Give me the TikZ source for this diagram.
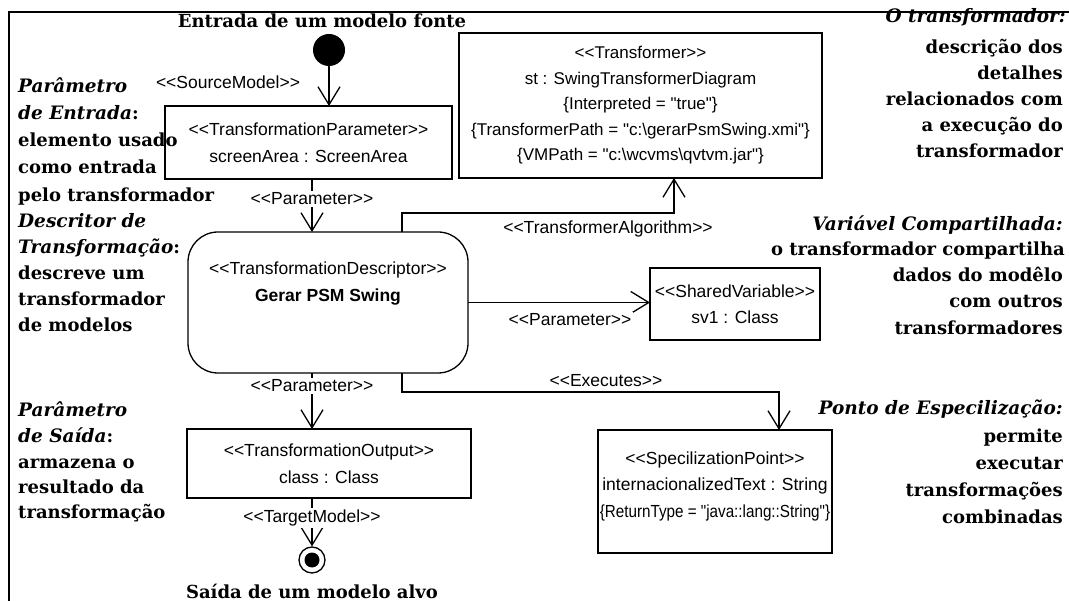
\documentclass[tikz,border=0pt]{standalone}
\usepackage{fontspec}
\newfontfamily\umlfont{Liberation Sans}
\newfontfamily\notefont{DejaVu Serif}
\usetikzlibrary{arrows.meta}
\newcommand\stereo[1]{<\kern0pt<#1>\kern0pt>}
\newcommand\headline[1]{{\fontsize{18.5}{26}\selectfont\itshape #1}}
\begin{document}
\begin{tikzpicture}[x=1pt,y=-1pt,
  frame/.style={line width=2.4pt},
  note/.style={inner sep=0pt, font=\notefont\fontsize{18}{26}\selectfont\bfseries},
  uml/.style={font=\umlfont\fontsize{17.5}{26.5}\selectfont, align=center, inner sep=0pt},
  umlbox/.style={uml, draw, line width=1.3pt, outer sep=0pt},
  conn/.style={line width=1.3pt, -{Straight Barb[length=18pt,width=22pt,line width=1.3pt]}},
  tag/.style={font=\umlfont\fontsize{17.5}{20}\selectfont, fill=white, inner sep=1.5pt}
]
\useasboundingbox (0,0) rectangle (1069,601);
\draw[frame] (9,601) -- (9,12) -- (1069,12);

% activity nodes
\node[note] (srcTitle) at (322,21) {Entrada de um modelo fonte};
\node[circle, fill, minimum size=32pt, inner sep=0pt] (start) at (329,50) {};
\node[umlbox, minimum width=287pt, minimum height=73pt] (tp) at (308.5,142.5)
  {\stereo{TransformationParameter}\\screenArea : ScreenArea};
\node[umlbox, rounded corners=30pt, minimum width=280pt, minimum height=141pt] (td) at (328,302.5) {};
\node[uml] (tdtext) at (328,283.5) {\stereo{TransformationDescriptor}\\\textbf{Gerar PSM Swing}};
\node[umlbox, font=\umlfont\fontsize{17}{25.5}\selectfont, minimum width=363pt, minimum height=145pt] (st) at (640.5,105.5)
  {\stereo{Transformer}\\st : SwingTransformerDiagram\\\{Interpreted = "true"\}\\
   \{TransformerPath = "c:\textbackslash gerarPsmSwing.xmi"\}\\
   \{VMPath = "c:\textbackslash wcvms\textbackslash qvtvm.jar"\}};
\node[umlbox, minimum width=170pt, minimum height=72pt] (sv) at (735,304)
  {\stereo{SharedVariable}\\sv1 : Class};
\node[umlbox, minimum width=284pt, minimum height=69pt] (to) at (329,463.5)
  {\stereo{TransformationOutput}\\class : Class};
\node[umlbox, minimum width=234pt, minimum height=123pt] (sp) at (715,491.5) {};
\node[uml] (sptext) at (715,486)
  {\stereo{SpecilizationPoint}\\internacionalizedText : String\\
   \scalebox{0.87}[1]{\{ReturnType = "java::lang::String"\}}};
\node[circle, draw, line width=1.3pt, minimum size=26pt, inner sep=0pt] (finish) at (312,560) {};
\node[circle, fill, minimum size=15pt, inner sep=0pt] (finishdot) at (finish.center) {};
\node[note] (tgtTitle) at (312,591) {Saída de um modelo alvo};

% connector columns and bends
\coordinate (colA) at (312,0);
\coordinate (colB) at (402,0);
\coordinate (colC) at (674,0);
\coordinate (colD) at (779,0);
\coordinate (bendA) at (402,213);
\coordinate (bendB) at (402,392);

\draw[conn] (start) -- (start |- tp.north);
\draw[conn] (colA |- tp.south) -- (colA |- td.north);
\draw[conn] (colB |- td.north) -- (bendA) -| (colC |- st.south);
\draw[conn] (td.east) -- (td.east -| sv.west);
\draw[conn] (colA |- td.south) -- (colA |- to.north);
\draw[conn] (colB |- td.south) -- (bendB) -| (colD |- sp.north);
\draw[conn] (colA |- to.south) -- (finish);

% stereotype labels on the flows
\node[tag] (tagSrc) at (228,82) {\stereo{SourceModel}};
\node[tag] (tagPar1) at (312,199) {\stereo{Parameter}};
\node[tag] (tagAlg) at (608,229) {\stereo{TransformerAlgorithm}};
\node[tag] (tagPar2) at (570,320) {\stereo{Parameter}};
\node[tag] (tagExe) at (606,381) {\stereo{Executes}};
\node[tag] (tagPar3) at (312,386) {\stereo{Parameter}};
\node[tag] (tagTgt) at (312,518) {\stereo{TargetModel}};

% notes on the left
\node[note, anchor=mid west] (inA) at (18,90) {\headline{Parâmetro}};
\node[note, anchor=mid west] (inB) at (18,117) {\headline{de Entrada}:};
\node[note, anchor=mid west] (inC) at (18,144) {elemento usado};
\node[note, anchor=mid west] (inD) at (18,171) {como entrada};
\node[note, anchor=mid west] (inE) at (18,199) {pelo transformador};

\node[note, anchor=mid west] (dsA) at (18,225) {\headline{Descritor de}};
\node[note, anchor=mid west] (dsB) at (18,251) {\headline{Transformação}:};
\node[note, anchor=mid west] (dsC) at (18,277) {descreve um};
\node[note, anchor=mid west] (dsD) at (18,303) {transformador};
\node[note, anchor=mid west] (dsE) at (18,329) {de modelos};

\node[note, anchor=mid west] (outA) at (18,414) {\headline{Parâmetro}};
\node[note, anchor=mid west] (outB) at (18,440) {\headline{de Saída}:};
\node[note, anchor=mid west] (outC) at (18,466) {armazena o};
\node[note, anchor=mid west] (outD) at (18,491) {resultado da};
\node[note, anchor=mid west] (outE) at (18,516) {transformação};

% notes on the right
\node[note, anchor=mid east] (trA) at (1066,20) {\headline{O transformador:}};
\node[note, anchor=mid east] (trB) at (1063,51) {descrição dos};
\node[note, anchor=mid east] (trC) at (1063,77) {detalhes};
\node[note, anchor=mid east] (trD) at (1063,103) {relacionados com};
\node[note, anchor=mid east] (trE) at (1063,129) {a execução do};
\node[note, anchor=mid east] (trF) at (1063,155) {transformador};

\node[note, anchor=mid east] (shA) at (1063,228) {\headline{Variável Compartilhada:}};
\node[note, anchor=mid east] (shB) at (1065,253) {o transformador compartilha};
\node[note, anchor=mid east] (shC) at (1063,279) {dados do modêlo};
\node[note, anchor=mid east] (shD) at (1063,305) {com outros};
\node[note, anchor=mid east] (shE) at (1063,332) {transformadores};

\node[note, anchor=mid east] (ptA) at (1063,412) {\headline{Ponto de Especilização:}};
\node[note, anchor=mid east] (ptB) at (1063,440) {permite};
\node[note, anchor=mid east] (ptC) at (1063,467) {executar};
\node[note, anchor=mid east] (ptD) at (1063,494) {transformações};
\node[note, anchor=mid east] (ptE) at (1063,521) {combinadas};
\end{tikzpicture}
\end{document}
